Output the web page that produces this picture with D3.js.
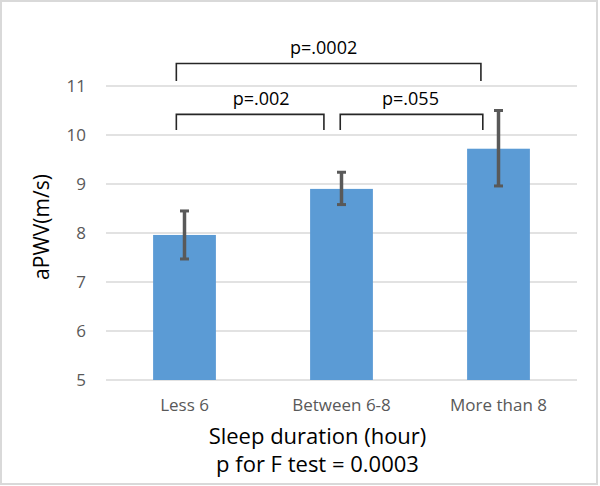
<!DOCTYPE html>
<html>
<head>
<meta charset="utf-8">
<script src="https://cdn.jsdelivr.net/npm/d3@7"></script>
<style>
  html, body { margin: 0; padding: 0; background: #fff; }
  svg { display: block; }
  text { font-family: "Open Sans", "Liberation Sans", sans-serif; }
</style>
</head>
<body>
<div id="chart"></div>
<script>
// ---- data ----
const categories = ["Less 6", "Between 6-8", "More than 8"];
const means = [7.96, 8.9, 9.72];
const errLow = [7.47, 8.58, 8.96];
const errHigh = [8.45, 9.24, 10.5];
const yTicks = [5, 6, 7, 8, 9, 10, 11];
const bracketFrom = ["Less 6", "Less 6", "Between 6-8"];
const bracketTo = ["More than 8", "Between 6-8", "More than 8"];
const bracketLabels = ["p=.0002", "p=.002", "p=.055"];
const bracketTop = [11.46, 10.42, 10.42];
const bracketLeg = [11.1, 10.1, 10.1];
const yTitle = "aPWV(m/s)";
const xTitle = "Sleep duration (hour)";
const subTitle = "p for F test = 0.0003";

// ---- layout ----
const W = 600, H = 486;
const plot = { left: 106, right: 577, top: 86, bottom: 380 };

const svg = d3.select("#chart").append("svg").attr("width", W).attr("height", H);

// outer border
svg.append("rect").attr("x", 1).attr("y", 1).attr("width", 596).attr("height", 483)
  .attr("fill", "#fff").attr("stroke", "#d9d9d9").attr("stroke-width", 2);

const x = d3.scaleBand().domain(categories).range([plot.left, plot.right])
  .paddingInner(0.6).paddingOuter(0.3);
const y = d3.scaleLinear().domain([5, 11]).range([plot.bottom, plot.top]);

// gridlines
svg.append("g").selectAll("line").data(yTicks).join("line")
  .attr("x1", plot.left).attr("x2", plot.right)
  .attr("y1", d => y(d)).attr("y2", d => y(d))
  .attr("stroke", "#d9d9d9").attr("stroke-width", 1.5);

// y axis labels
const yAxis = d3.axisLeft(y).tickValues(yTicks).tickFormat(d3.format("d")).tickSize(0).tickPadding(20);
const gy = svg.append("g").attr("transform", `translate(${plot.left},0)`).call(yAxis);
gy.select(".domain").remove();
gy.selectAll("text").attr("fill", "#595959").style("font-size", "17px")
  .style("font-family", '"Open Sans", sans-serif');

// x axis labels
const xAxis = d3.axisBottom(x).tickSize(0).tickPadding(19);
const gx = svg.append("g").attr("transform", `translate(0,${plot.bottom})`).call(xAxis);
gx.select(".domain").remove();
gx.selectAll("text").attr("fill", "#595959").style("font-size", "17px")
  .style("font-family", '"Open Sans", sans-serif');

// bars
const data = categories.map((c, i) => ({ c, v: means[i], lo: errLow[i], hi: errHigh[i] }));
svg.append("g").selectAll("rect").data(data).join("rect")
  .attr("x", d => x(d.c)).attr("width", x.bandwidth())
  .attr("y", d => y(d.v)).attr("height", d => y(5) - y(d.v))
  .attr("fill", "#5b9bd5");

// error bars
const eg = svg.append("g").attr("stroke", "#595959");
const cx = d => x(d.c) + x.bandwidth() / 2;
eg.selectAll(".stem").data(data).join("line")
  .attr("x1", cx).attr("x2", cx).attr("y1", d => y(d.lo)).attr("y2", d => y(d.hi))
  .attr("stroke-width", 3.5);
eg.selectAll(".capHi").data(data).join("line")
  .attr("x1", d => cx(d) - 4.5).attr("x2", d => cx(d) + 4.5)
  .attr("y1", d => y(d.hi)).attr("y2", d => y(d.hi)).attr("stroke-width", 3);
eg.selectAll(".capLo").data(data).join("line")
  .attr("x1", d => cx(d) - 4.5).attr("x2", d => cx(d) + 4.5)
  .attr("y1", d => y(d.lo)).attr("y2", d => y(d.lo)).attr("stroke-width", 3);

// significance brackets
const bw = x.bandwidth();
const leftOff = [-0.13, -0.13, -0.02];   // fraction of bandwidth
const rightOff = [-0.28, -0.28, -0.25];
const labelShift = [-5, 11, -1];
const bg = svg.append("g");
bracketLabels.forEach((lab, i) => {
  const x1 = x(bracketFrom[i]) + bw / 2 + leftOff[i] * bw;
  const x2 = x(bracketTo[i]) + bw / 2 + rightOff[i] * bw;
  const yt = y(bracketTop[i]), yl = y(bracketLeg[i]);
  bg.append("path")
    .attr("d", `M${x1},${yl}V${yt}H${x2}V${yl}`)
    .attr("fill", "none").attr("stroke", "#262626").attr("stroke-width", 1.6);
  bg.append("text").attr("x", (x1 + x2) / 2 + labelShift[i]).attr("y", yt - 9.5)
    .attr("text-anchor", "middle").style("font-size", "18px").attr("fill", "#000")
    .text(lab);
});

// titles
svg.append("text")
  .attr("transform", `translate(49,227) rotate(-90)`)
  .attr("text-anchor", "middle").style("font-size", "21px").attr("fill", "#000")
  .text(yTitle);
svg.append("text").attr("x", 317.5).attr("y", 443.5).attr("text-anchor", "middle")
  .style("font-size", "22px").attr("fill", "#000").text(xTitle);
svg.append("text").attr("x", 317.5).attr("y", 472).attr("text-anchor", "middle")
  .style("font-size", "22px").attr("fill", "#000").text(subTitle);
</script>
</body>
</html>
